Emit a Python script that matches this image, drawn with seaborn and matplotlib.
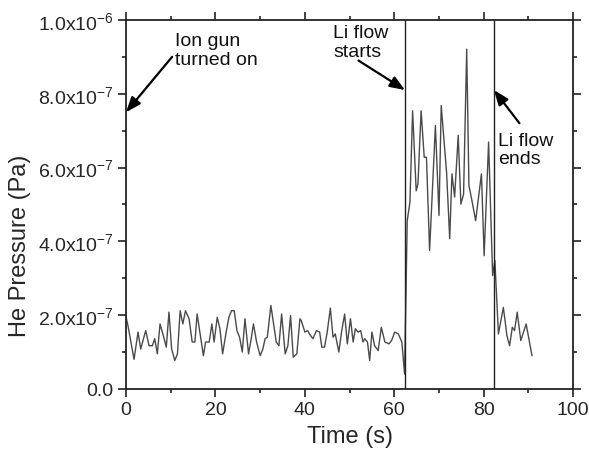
import numpy as np
import pandas as pd
import matplotlib
matplotlib.use("Agg")
import matplotlib.pyplot as plt
import seaborn as sns
from matplotlib.ticker import MultipleLocator, FixedLocator

# ---- data (pressure in units of 1e-7 Pa) ----
time_s = [
    0.0, 0.45, 1.79, 2.68, 3.28, 4.4, 5.15, 5.89, 6.41, 7.0, 7.6, 8.35, 9.0, 9.6, 10.2,
    10.9, 11.5, 12.1, 12.7, 13.3, 14.1, 14.8, 15.4, 15.9, 16.5, 17.3, 17.8, 18.6, 19.2, 19.7,
    20.4, 21.0, 21.6, 22.4, 23.0, 23.6, 24.2, 24.8, 25.4, 26.0, 26.6, 27.4, 28.0, 28.5, 29.2,
    30.0, 30.6, 31.1, 31.6, 32.4, 33.0, 33.6, 34.2, 34.8, 35.6, 36.2, 36.8, 37.4, 38.2, 38.9,
    39.2, 40.0, 40.6, 41.3, 41.8, 42.6, 43.3, 43.8, 44.4, 45.0, 45.7, 46.3, 46.8, 47.6, 48.2,
    48.9, 49.5, 50.2, 50.8, 51.3, 51.9, 52.5, 53.0, 53.4, 54.0, 54.5, 55.0, 55.6, 56.4, 57.1,
    57.9, 58.8, 59.4, 60.1, 60.9, 61.7,
    62.3, 62.9, 63.5, 64.1, 64.9, 65.3, 66.0, 66.7, 67.2, 67.9, 69.2, 70.0, 70.5, 71.7, 72.4,
    72.9, 73.5, 74.3, 74.9, 75.5, 76.2, 76.7, 77.3, 78.2, 79.5, 80.1, 81.1,
    82.0, 82.5, 83.3, 84.4, 85.2, 85.8, 86.4, 86.9, 87.5, 88.3, 89.5, 90.8,
]
pressure_e7 = [
    1.95, 1.70, 0.80, 1.54, 1.08, 1.58, 1.17, 1.17, 1.36, 0.95, 1.76, 1.44, 1.13, 2.08, 1.08,
    0.77, 0.95, 2.12, 1.76, 2.12, 1.90, 1.27, 1.27, 2.03, 1.54, 0.90, 1.27, 1.27, 1.76, 1.27,
    1.94, 1.63, 0.95, 1.54, 1.94, 2.12, 2.12, 1.58, 1.40, 1.00, 1.90, 0.95, 1.36, 1.76, 1.27,
    0.90, 1.08, 1.36, 1.40, 2.26, 1.76, 1.27, 1.17, 2.03, 0.95, 1.17, 1.99, 0.86, 0.95, 1.90,
    1.85, 1.54, 1.58, 1.44, 1.36, 1.58, 1.54, 1.13, 1.13, 1.54, 2.19, 1.40, 1.49, 1.00, 1.54,
    2.03, 1.22, 1.90, 1.27, 1.63, 1.54, 1.58, 1.27, 1.36, 1.27, 0.77, 1.54, 1.17, 1.04, 1.67,
    1.27, 1.22, 1.31, 1.54, 1.49, 1.27,
    0.40, 4.56, 5.06, 7.54, 5.37, 5.56, 7.54, 6.28, 6.28, 3.75, 7.14, 4.70, 7.68, 5.87, 4.07,
    5.83, 5.20, 6.87, 5.01, 5.28, 9.21, 5.51, 5.15, 4.56, 5.83, 3.61, 6.69,
    3.07, 3.48, 1.49, 2.21, 1.44, 1.17, 1.67, 1.58, 2.08, 1.31, 1.76, 0.90,
]
event_times = [62.4, 82.3]
y_ticks = [0, 2e-7, 4e-7, 6e-7, 8e-7, 1e-6]
y_tick_labels = ["0.0", "2.0x10$^{-7}$", "4.0x10$^{-7}$", "6.0x10$^{-7}$",
                 "8.0x10$^{-7}$", "1.0x10$^{-6}$"]
x_ticks = [0, 20, 40, 60, 80, 100]
notes = ["Ion gun\nturned on", "Li flow\nstarts", "Li flow\nends"]

df = pd.DataFrame({"Time (s)": time_s,
                   "He Pressure (Pa)": np.array(pressure_e7) * 1e-7})

sns.set_style("ticks")
plt.rcParams["font.family"] = ["Liberation Sans", "DejaVu Sans"]
plt.rcParams["mathtext.fontset"] = "custom"
plt.rcParams["mathtext.rm"] = "Liberation Sans"
plt.rcParams["mathtext.it"] = "Liberation Sans:italic"
plt.rcParams["mathtext.bf"] = "Liberation Sans:bold"

fig = plt.figure(figsize=(5.89, 4.56), dpi=100)
ax = fig.add_axes([0.214, 0.145, 0.759, 0.809])

sns.lineplot(data=df, x="Time (s)", y="He Pressure (Pa)", ax=ax,
             color="#4a4a4a", linewidth=1.0, estimator=None, sort=False)

for t in event_times:
    ax.axvline(t, color="#222222", linewidth=1.0)

ax.set_xlim(0, 100)
ax.set_ylim(0, 1e-6)
ax.xaxis.set_major_locator(FixedLocator(x_ticks))
ax.xaxis.set_minor_locator(MultipleLocator(10))
ax.yaxis.set_major_locator(FixedLocator(y_ticks))
ax.yaxis.set_minor_locator(MultipleLocator(1e-7))
ax.set_yticklabels(y_tick_labels)
ax.set_xticklabels([str(v) for v in x_ticks])

for s in ax.spines.values():
    s.set_visible(True)
    s.set_linewidth(1.3)
    s.set_color("#222222")
ax.tick_params(which="both", direction="out", top=True, right=True,
               labeltop=False, labelright=False, color="#222222", width=1.2)
ax.tick_params(which="major", length=6, labelsize=14, pad=3)
ax.tick_params(which="minor", length=3)
ax.set_xlabel("Time (s)", fontsize=17, labelpad=5)
ax.set_ylabel("He Pressure (Pa)", fontsize=17)
ax.yaxis.set_label_coords(-0.212, 0.39)

arrow = dict(arrowstyle="-|>,head_length=0.9,head_width=0.35", color="black", lw=1.6,
             shrinkA=0, shrinkB=0)
txt = dict(fontsize=14, ha="left", va="center", linespacing=1.1, color="#111111")

ax.text(11.0, 9.19e-7, notes[0], **txt)
ax.annotate("", xy=(0, 7.5e-7), xytext=(10.3, 9.0e-7), arrowprops=arrow)

ax.text(46.3, 9.4e-7, notes[1], **txt)
ax.annotate("", xy=(62.4, 8.1e-7), xytext=(52.0, 8.9e-7), arrowprops=arrow)

ax.text(83.2, 6.48e-7, notes[2], **txt)
ax.annotate("", xy=(82.3, 8.1e-7), xytext=(88.0, 7.2e-7), arrowprops=arrow)

fig.savefig("out.png", dpi=100)
